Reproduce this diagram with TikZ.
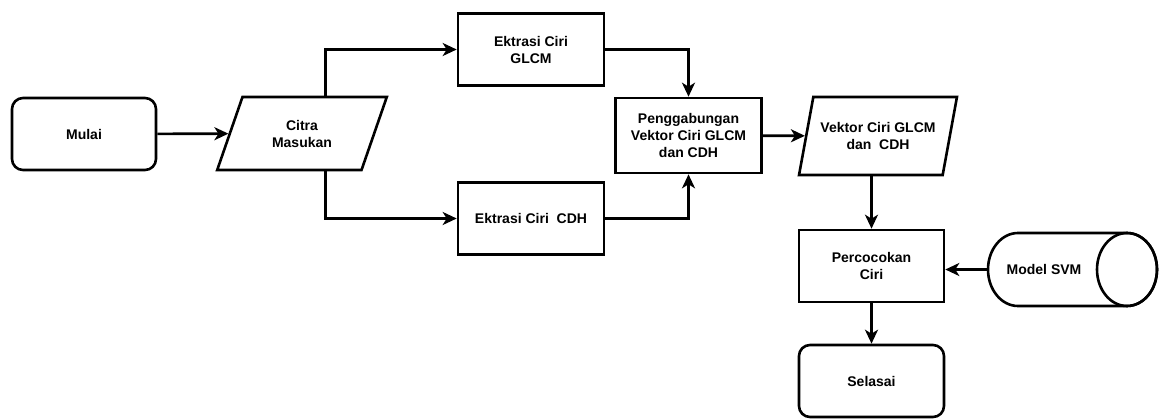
\documentclass[tikz,border=0pt]{standalone}
\usepackage{fontspec}
\setmainfont{Liberation Sans}
\usetikzlibrary{shapes.geometric,arrows.meta}
\newlength{\du}
\setlength{\du}{1pt}
\tikzset{
  diabox/.style={draw=dialinecolor, line width=2.6\du, minimum width=146\du, minimum height=72\du,
    inner sep=0pt, align=center, font=\fontsize{14}{17}\selectfont\bfseries},
  diaterm/.style={diabox, rounded corners=11\du},
  diaio/.style={diabox, trapezium, trapezium left angle=65, trapezium right angle=115,
    trapezium stretches=true},
  diastore/.style={diabox, draw=none, outer sep=0pt},
  dialine/.style={draw=dialinecolor, line width=2.6\du},
  diaarrow/.style={dialine, -{Stealth[length=14pt,width=13pt,inset=4pt]}}
}

\begin{document}
\begin{tikzpicture}
\definecolor{dialinecolor}{rgb}{0.000000, 0.000000, 0.000000}
\useasboundingbox (0\du,0\du) rectangle (1159\du,-418\du);
% nodes
\node[diaterm, minimum width=144\du] (mulai) at (84\du,-134\du){Mulai};
\node[diaio, minimum width=170\du, minimum height=73\du] (citra) at (302\du,-133.5\du){Citra\\Masukan};
\node[diabox] (glcm) at (531\du,-49.5\du){Ektrasi Ciri\\GLCM};
\node[diabox] (cdh) at (531\du,-218.5\du){Ektrasi Ciri~~CDH};
\node[diabox, minimum height=75\du] (gabung) at (688.5\du,-135.5\du){Penggabungan\\Vektor Ciri GLCM\\dan CDH};
\node[diaio, minimum width=158\du, minimum height=78\du] (vektor) at (878\du,-136\du){Vektor Ciri GLCM\\dan~~CDH};
\node[diabox, minimum width=145\du] (cocok) at (871.5\du,-266\du){Percocokan\\Ciri};
\node[diastore, minimum width=112\du, minimum height=73\du] (svm) at (1044\du,-269.5\du){Model SVM};
\node[diaterm, minimum width=145\du] (selesai) at (871.5\du,-381\du){Selasai};
% storage drum round the svm node
\draw[dialine] ([xshift=30\du]svm.north west)
  arc[start angle=90, end angle=270, x radius=30\du, y radius=36.5\du]
  -- ++(109\du,0\du)
  arc[start angle=-90, end angle=90, x radius=30\du, y radius=36.5\du] -- cycle;
\draw[dialine] ([xshift=27\du]svm.east) ellipse[x radius=30\du, y radius=36.5\du];
% elbows
\coordinate (citraup) at ([xshift=23.5\du]citra.north |- glcm.west);
\coordinate (citradown) at ([xshift=23.5\du]citra.south |- cdh.west);
\coordinate (glcmturn) at (glcm.east -| gabung.north);
\coordinate (cdhturn) at (cdh.east -| gabung.south);
% connectors
\draw[diaarrow] (mulai) -- (citra);
\draw[dialine, line cap=rect] ([xshift=23.5\du]citra.north) -- (citraup);
\draw[diaarrow] (citraup) -- (glcm);
\draw[dialine, line cap=rect] ([xshift=23.5\du]citra.south) -- (citradown);
\draw[diaarrow] (citradown) -- (cdh);
\draw[dialine, line cap=rect] (glcm) -- (glcmturn);
\draw[diaarrow] (glcmturn) -- (gabung);
\draw[dialine, line cap=rect] (cdh) -- (cdhturn);
\draw[diaarrow] (cdhturn) -- (gabung);
\draw[diaarrow] (gabung) -- (vektor);
\draw[diaarrow] (vektor.south -| cocok.north) -- (cocok);
\draw[diaarrow] (svm.west) -- (svm.west -| cocok.east);
\draw[diaarrow] (cocok) -- (selesai);
\end{tikzpicture}
\end{document}
